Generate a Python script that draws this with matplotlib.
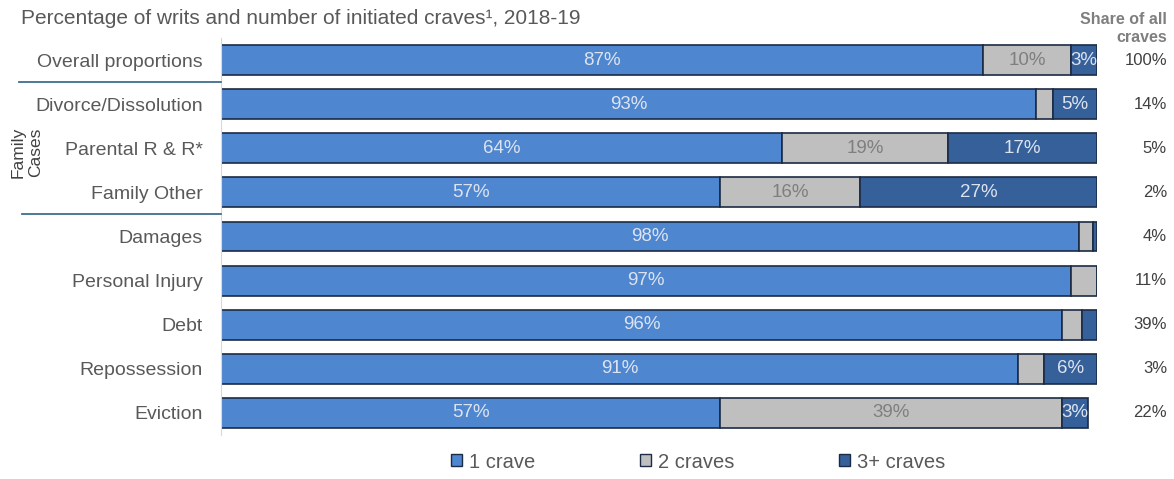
import matplotlib.pyplot as plt
from matplotlib.lines import Line2D
from matplotlib.patches import Patch
from matplotlib.transforms import blended_transform_factory

plt.rcParams["font.family"] = ["Liberation Sans", "DejaVu Sans"]

categories = ["Overall proportions", "Divorce/Dissolution", "Parental R & R*",
              "Family Other", "Damages", "Personal Injury", "Debt",
              "Repossession", "Eviction"]
one_crave = [87, 93, 64, 57, 98, 97, 96, 91, 57]
two_craves = [10, 2, 19, 16, 1.6, 3, 2.3, 3, 39]
three_plus = [3, 5, 17, 27, 0.4, 0, 1.7, 6, 3]
# which segments carry a percentage label
label_one = [True] * 9
label_two = [True, False, True, True, False, False, False, False, True]
label_three = [True, True, True, True, False, False, False, True, True]
share_of_all = ["100%", "14%", "5%", "2%", "4%", "11%", "39%", "3%", "22%"]
series_names = ["1 crave", "2 craves", "3+ craves"]

c_one, c_two, c_three = "#4F86D0", "#BFBFBF", "#35609A"
edge = "#1C2B45"
text_grey = "#595959"

W, H = 1174, 479
fig = plt.figure(figsize=(W / 100, H / 100), dpi=100)
ax = fig.add_axes([221 / W, 1 - 435 / H, (1097 - 221) / W, 397 / H])

y = list(range(len(categories)))
h = 0.68
left2 = one_crave
left3 = [a + b for a, b in zip(one_crave, two_craves)]
ax.barh(y, one_crave, height=h, color=c_one, edgecolor=edge, linewidth=1.2)
ax.barh(y, two_craves, left=left2, height=h, color=c_two, edgecolor=edge, linewidth=1.2)
ax.barh(y, three_plus, left=left3, height=h, color=c_three, edgecolor=edge, linewidth=1.2)

ax.set_xlim(0, 100)
ax.set_ylim(len(categories) - 0.5, -0.5)
ax.set_yticks(y)
ax.set_yticklabels(categories, fontsize=14, color=text_grey)
ax.tick_params(axis="y", length=0, pad=13)
ax.set_xticks([])
for s in ["top", "right", "bottom"]:
    ax.spines[s].set_visible(False)
ax.spines["left"].set_color("#D9D9D9")

# x in figure fraction, y in data -> share column right of the bars
fig_x_data_y = blended_transform_factory(fig.transFigure, ax.transData)

for i in y:
    if label_one[i]:
        ax.text(one_crave[i] / 2, i, f"{one_crave[i]}%", ha="center", va="center",
                color="#DDE3EE", fontsize=13.5)
    if label_two[i]:
        ax.text(left2[i] + two_craves[i] / 2, i, f"{two_craves[i]}%", ha="center",
                va="center", color="#7F7F7F", fontsize=13.5)
    if label_three[i]:
        ax.text(left3[i] + three_plus[i] / 2, i, f"{three_plus[i]}%", ha="center",
                va="center", color="#DDE3EE", fontsize=13.5)
    ax.text(1167 / W, i, share_of_all[i], transform=fig_x_data_y,
            ha="right", va="center", color="#404040", fontsize=12)

# separators around the family case group
for yy, x0 in [(0.5, 19), (3.5, 22)]:
    fig.add_artist(Line2D([x0 / W, 221 / W], [yy, yy], transform=fig_x_data_y,
                          color="#3F6E8E", lw=1.3))
fig.text(27 / W, 1 - 152 / H, "Family\nCases", rotation=90, ha="center",
         va="center", fontsize=12.5, color="#404040", linespacing=1.25)

fig.text(21 / W, 1 - 19 / H, "Percentage of writs and number of initiated craves¹, 2018-19",
         ha="left", va="center", fontsize=15, color=text_grey)
fig.text(1167 / W, 1 - 28 / H, "Share of all\ncraves", ha="right", va="center",
         fontsize=11.5, color="#7F7F7F", fontweight="bold", linespacing=1.25)

handles = [Patch(facecolor=c, edgecolor=edge, lw=1) for c in (c_one, c_two, c_three)]
fig.legend(handles, series_names, loc="center", bbox_to_anchor=(698 / W, 1 - 462 / H),
           ncol=3, frameon=False, fontsize=14.5, handlelength=0.55, handleheight=0.55,
           handletextpad=0.35, columnspacing=5.2, labelcolor=text_grey)

fig.savefig("out.png", dpi=100)
